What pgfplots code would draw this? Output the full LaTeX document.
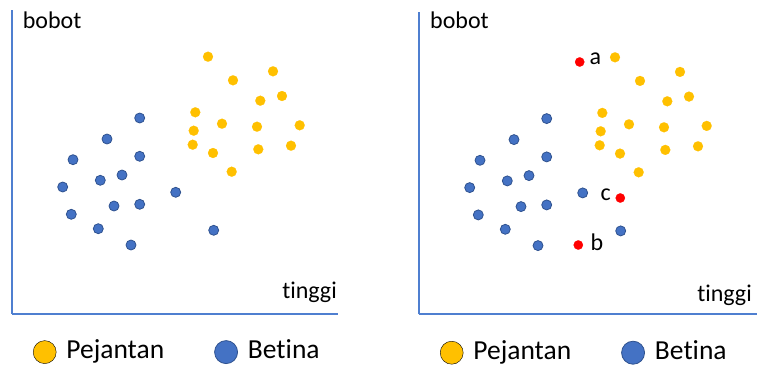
\documentclass[border=0pt]{standalone}
\usepackage{fontspec}
\setmainfont{Carlito}[Ligatures=NoCommon]
\usepackage{pgfplots}
\pgfplotsset{compat=1.18}
\definecolor{pyellow}{HTML}{FFC000}
\definecolor{pblue}{HTML}{4472C4}
\definecolor{pedge}{HTML}{2F528F}
\definecolor{axblue}{HTML}{4F7FD0}
\definecolor{pred}{HTML}{FF0000}
\pgfplotsset{
  panel/.style={
    scale only axis, axis lines=left,
    axis line style={-, draw=axblue, line width=2pt},
    xtick=\empty, ytick=\empty, enlargelimits=false, clip=false,
    xmin=0, ymin=0, anchor=south west,
    legend cell align=left,
    legend style={draw=none, fill=none, legend columns=2,
      font=\fontsize{27.5}{31}\selectfont, inner sep=0pt, outer sep=0pt,
      at={(axis cs:21,-38.3)}, anchor=west,
      nodes={inner sep=0pt, anchor=base west},
      /tikz/every odd column/.append style={column sep=10pt},
      /tikz/every even column/.append style={column sep=50pt}},
    legend image code/.code={\filldraw[##1] (11.5pt,6.8pt) circle[radius=11.5pt];},
  },
  yel/.style={only marks, mark=*, mark size=5pt, forget plot,
    mark options={fill=pyellow, draw=pyellow, line width=0.1pt}},
  blu/.style={only marks, mark=*, mark size=5pt, forget plot,
    mark options={fill=pblue, draw=pedge, line width=0.8pt}},
  rd/.style={only marks, mark=*, mark size=4.7pt, forget plot,
    mark options={fill=pred, draw=pred, line width=0.1pt}},
}
\pgfplotstableread{
x y
196 257
221 233.4
261 242.4
270 217.7
248.3 213
183.3 201.4
210 190
245 187
287.7 188.4
181.7 183
180.7 169
201 160.7
246.3 164.4
279 168
219.7 142
}\pejantan
\pgfplotstableread{
x y
127.7 195.7
95 174.7
61 154
127.7 157.4
110 138.7
88.3 133.4
50.7 126.7
163.7 121.4
102 107.7
127.7 109.4
59.3 99.4
86.3 85
201.7 83.4
119 68.7
}\betina
\pgfplotstableread{
x y
160.7 252.3
159.3 69.3
201.3 116.3
}\baru
\begin{document}
\begin{tikzpicture}
\useasboundingbox (0pt,0pt) rectangle (768pt,376pt);
\begin{axis}[panel, at={(12pt,62.3pt)}, width=326pt, height=303.7pt,
  xmax=326, ymax=303.7]
  \addplot[yel] table {\pejantan};
  \addplot[blu] table {\betina};
  \addlegendimage{fill=pyellow, draw=none}
  \addlegendentry{Pejantan}
  \addlegendimage{fill=pblue, draw=pedge, line width=0.8pt}
  \addlegendentry{Betina}
  \node[anchor=base west, inner sep=0pt, font=\fontsize{24}{28}\selectfont] at (axis cs:10.7,285.4) {bobot};
  \node[anchor=base east, inner sep=0pt, font=\fontsize{24}{28}\selectfont] at (axis cs:325,15.4) {tinggi};
\end{axis}
\begin{axis}[panel, at={(419pt,61.7pt)}, width=338pt, height=302.6pt,
  xmax=338, ymax=302.6]
  \addplot[yel] table {\pejantan};
  \addplot[blu] table {\betina};
  \addplot[rd] table {\baru};
  \addlegendimage{fill=pyellow, draw=none}
  \addlegendentry{Pejantan}
  \addlegendimage{fill=pblue, draw=pedge, line width=0.8pt}
  \addlegendentry{Betina}
  \node[anchor=base west, inner sep=0pt, font=\fontsize{24}{28}\selectfont] at (axis cs:11,286) {bobot};
  \node[anchor=base east, inner sep=0pt, font=\fontsize{24}{28}\selectfont] at (axis cs:333,12.6) {tinggi};
  \node[anchor=mid west, inner sep=0pt, font=\fontsize{24}{28}\selectfont] at (axis cs:170.5,252.6) {a};
  \node[anchor=base west, inner sep=0pt, font=\fontsize{24}{28}\selectfont] at (axis cs:171.5,63.6) {b};
  \node[anchor=mid east, inner sep=0pt, font=\fontsize{24}{28}\selectfont] at (axis cs:192,116.3) {c};
\end{axis}
\end{tikzpicture}
\end{document}
